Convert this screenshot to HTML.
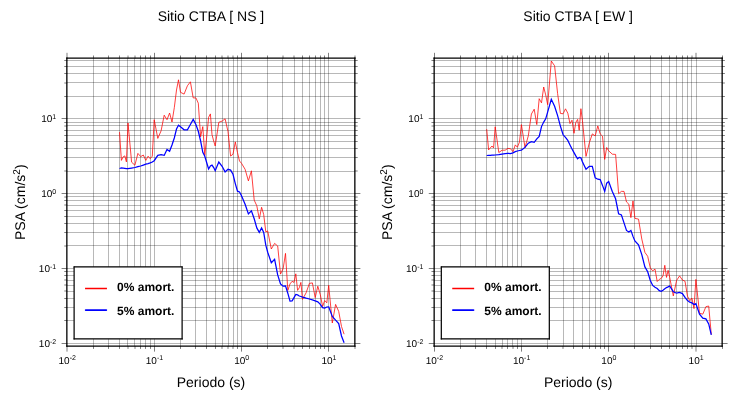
<!DOCTYPE html>
<html><head><meta charset="utf-8"><title>PSA</title>
<style>
html,body{margin:0;padding:0;background:#fff;}
svg{display:block}
text{font-family:"Liberation Sans",Arial,Helvetica,sans-serif;fill:#000;text-rendering:geometricPrecision}
.an{font-size:10px}
.sup{font-size:7px}
.sup2{font-size:10px}
.lb{font-size:14px}
.ti{font-size:14px}
.lg{font-size:12px;font-weight:bold}
</style></head><body>
<svg width="730" height="400" viewBox="0 0 730 400">
<rect width="730" height="400" fill="#fff"/>
<g transform="translate(0,0)">
<path d="M66.5 58.22V346.22M93.5 58.22V346.22M108.5 58.22V346.22M119.5 58.22V346.22M127.5 58.22V346.22M134.5 58.22V346.22M140.5 58.22V346.22M145.5 58.22V346.22M150.5 58.22V346.22M154.5 58.22V346.22M180.5 58.22V346.22M195.5 58.22V346.22M206.5 58.22V346.22M215.5 58.22V346.22M222.5 58.22V346.22M228.5 58.22V346.22M233.5 58.22V346.22M237.5 58.22V346.22M241.5 58.22V346.22M267.5 58.22V346.22M282.5 58.22V346.22M294.5 58.22V346.22M302.5 58.22V346.22M309.5 58.22V346.22M315.5 58.22V346.22M320.5 58.22V346.22M324.5 58.22V346.22M328.5 58.22V346.22M354.5 58.22V346.22M66.98 343.5H354.98M66.98 320.5H354.98M66.98 307.5H354.98M66.98 298.5H354.98M66.98 291.5H354.98M66.98 285.5H354.98M66.98 280.5H354.98M66.98 275.5H354.98M66.98 271.5H354.98M66.98 268.5H354.98M66.98 245.5H354.98M66.98 232.5H354.98M66.98 223.5H354.98M66.98 216.5H354.98M66.98 210.5H354.98M66.98 205.5H354.98M66.98 200.5H354.98M66.98 196.5H354.98M66.98 193.5H354.98M66.98 171.5H354.98M66.98 157.5H354.98M66.98 148.5H354.98M66.98 141.5H354.98M66.98 135.5H354.98M66.98 130.5H354.98M66.98 125.5H354.98M66.98 122.5H354.98M66.98 118.5H354.98M66.98 96.5H354.98M66.98 82.5H354.98M66.98 73.5H354.98M66.98 66.5H354.98M66.98 60.5H354.98" stroke="#000" stroke-opacity="0.28" stroke-width="1" fill="none"/>
<path d="M93.50 345.92v3.0M93.50 58.52v-3.0M108.50 345.92v3.0M108.50 58.52v-3.0M119.50 345.92v3.0M119.50 58.52v-3.0M140.50 345.92v3.0M140.50 58.52v-3.0M145.50 345.92v3.0M145.50 58.52v-3.0M150.50 345.92v3.0M150.50 58.52v-3.0M154.50 345.92v5.7M154.50 58.52v-5.7M180.50 345.92v3.0M180.50 58.52v-3.0M195.50 345.92v3.0M195.50 58.52v-3.0M206.50 345.92v3.0M206.50 58.52v-3.0M215.50 345.92v3.0M215.50 58.52v-3.0M237.50 345.92v3.0M237.50 58.52v-3.0M241.50 345.92v5.7M241.50 58.52v-5.7M267.50 345.92v3.0M267.50 58.52v-3.0M302.50 345.92v3.0M302.50 58.52v-3.0M309.50 345.92v3.0M309.50 58.52v-3.0M315.50 345.92v3.0M315.50 58.52v-3.0M320.50 345.92v3.0M320.50 58.52v-3.0M324.50 345.92v3.0M324.50 58.52v-3.0M328.50 345.92v5.7M328.50 58.52v-5.7M67.28 343.5h-5.7M354.68 343.5h5.7M67.28 320.5h-3.0M354.68 320.5h3.0M67.28 307.5h-3.0M354.68 307.5h3.0M67.28 298.5h-3.0M354.68 298.5h3.0M67.28 275.5h-3.0M354.68 275.5h3.0M67.28 271.5h-3.0M354.68 271.5h3.0M67.28 268.5h-5.7M354.68 268.5h5.7M67.28 232.5h-3.0M354.68 232.5h3.0M67.28 223.5h-3.0M354.68 223.5h3.0M67.28 216.5h-3.0M354.68 216.5h3.0M67.28 210.5h-3.0M354.68 210.5h3.0M67.28 200.5h-3.0M354.68 200.5h3.0M67.28 193.5h-5.7M354.68 193.5h5.7M67.28 157.5h-3.0M354.68 157.5h3.0M67.28 148.5h-3.0M354.68 148.5h3.0M67.28 141.5h-3.0M354.68 141.5h3.0M67.28 135.5h-3.0M354.68 135.5h3.0M67.28 130.5h-3.0M354.68 130.5h3.0M67.28 122.5h-3.0M354.68 122.5h3.0M67.28 118.5h-5.7M354.68 118.5h5.7M67.28 96.5h-3.0M354.68 96.5h3.0M67.28 73.5h-3.0M354.68 73.5h3.0M67.28 66.5h-3.0M354.68 66.5h3.0M67.28 60.5h-3.0M354.68 60.5h3.0" stroke="#000" stroke-opacity="0.5" stroke-width="1" fill="none"/>
<path d="M66.50 345.92v5.7M66.50 58.52v-5.7M67.50 345.92v5.7M67.50 58.52v-5.7M127.50 345.92v3.0M127.50 58.52v-3.0M128.50 345.92v3.0M128.50 58.52v-3.0M134.50 345.92v3.0M134.50 58.52v-3.0M135.50 345.92v3.0M135.50 58.52v-3.0M221.50 345.92v3.0M221.50 58.52v-3.0M222.50 345.92v3.0M222.50 58.52v-3.0M227.50 345.92v3.0M227.50 58.52v-3.0M228.50 345.92v3.0M228.50 58.52v-3.0M232.50 345.92v3.0M232.50 58.52v-3.0M233.50 345.92v3.0M233.50 58.52v-3.0M282.50 345.92v3.0M282.50 58.52v-3.0M283.50 345.92v3.0M283.50 58.52v-3.0M293.50 345.92v3.0M293.50 58.52v-3.0M294.50 345.92v3.0M294.50 58.52v-3.0M354.50 345.92v3.0M354.50 58.52v-3.0M355.50 345.92v3.0M355.50 58.52v-3.0M67.28 290.5h-3.0M354.68 290.5h3.0M67.28 291.5h-3.0M354.68 291.5h3.0M67.28 284.5h-3.0M354.68 284.5h3.0M67.28 285.5h-3.0M354.68 285.5h3.0M67.28 279.5h-3.0M354.68 279.5h3.0M67.28 280.5h-3.0M354.68 280.5h3.0M67.28 245.5h-3.0M354.68 245.5h3.0M67.28 246.5h-3.0M354.68 246.5h3.0M67.28 204.5h-3.0M354.68 204.5h3.0M67.28 205.5h-3.0M354.68 205.5h3.0M67.28 196.5h-3.0M354.68 196.5h3.0M67.28 197.5h-3.0M354.68 197.5h3.0M67.28 170.5h-3.0M354.68 170.5h3.0M67.28 171.5h-3.0M354.68 171.5h3.0M67.28 125.5h-3.0M354.68 125.5h3.0M67.28 126.5h-3.0M354.68 126.5h3.0M67.28 82.5h-3.0M354.68 82.5h3.0M67.28 83.5h-3.0M354.68 83.5h3.0" stroke="#000" stroke-opacity="0.25" stroke-width="1" fill="none"/>
<path d="M119.5 132.1L121.4 160.4L123.1 156.9L124.8 155.9L126.4 161.9L128.0 123.0L131.6 162.2L134.9 165.2L137.9 153.4L140.7 156.6L143.3 155.0L145.8 160.4L148.1 156.2L150.2 158.7L152.3 156.2L154.2 119.7L157.8 138.4L161.1 130.8L164.2 115.2L167.0 119.7L169.6 113.0L172.0 122.0L174.3 107.7L176.5 90.0L178.5 79.8L180.5 92.3L184.1 94.1L187.4 85.8L190.4 81.8L193.2 97.9L195.9 97.9L198.3 103.2L200.6 136.8L202.8 126.6L204.8 155.6L206.8 136.0L208.6 117.3L210.4 113.9L212.0 134.7L213.7 141.0L215.2 146.0L218.8 122.3L222.1 121.1L225.1 118.8L228.0 131.6L230.6 156.1L233.0 154.2L235.3 141.9L237.5 152.7L239.5 161.0L241.5 163.3L245.1 169.3L248.4 180.9L251.4 170.8L254.2 200.1L256.8 205.8L259.3 218.9L261.6 207.3L263.7 214.5L265.8 231.9L267.7 230.9L271.3 249.0L274.6 243.4L277.7 246.0L280.5 274.1L283.1 268.8L285.5 253.4L287.8 290.4L290.0 283.9L292.1 281.3L294.0 282.4L295.8 273.8L297.6 290.4L299.3 287.7L300.9 282.4L302.5 299.4L306.1 292.8L309.4 283.4L312.4 282.9L315.2 297.6L317.8 286.2L320.3 294.7L322.6 306.5L324.7 300.5L326.8 302.8L328.7 285.4L332.3 323.0L335.6 304.4L338.7 311.4L341.5 326.5L344.1 334.2" stroke="#f00" stroke-width="0.75" fill="none" stroke-linejoin="miter"/>
<path d="M119.5 168.5L121.4 168.0L123.1 168.2L124.8 168.4L126.4 168.6L128.0 168.7L131.6 168.1L134.9 167.5L137.9 166.7L140.7 166.0L143.3 165.1L145.8 164.2L148.1 163.6L150.2 162.9L152.3 162.0L154.2 160.7L157.8 155.4L161.1 154.7L164.2 155.4L167.0 149.4L169.6 151.3L172.0 145.0L174.3 138.0L176.5 129.0L178.5 125.3L180.5 126.8L184.1 129.8L187.4 129.8L190.4 124.5L193.2 119.4L195.9 124.5L198.3 131.3L200.6 141.0L202.8 152.4L204.8 156.2L206.8 163.0L208.6 169.0L210.4 166.0L212.0 165.1L213.7 167.6L215.2 170.8L218.8 162.0L222.1 166.3L225.1 171.9L228.0 169.3L230.6 170.1L233.0 174.3L235.3 183.6L237.5 191.2L239.5 191.9L241.5 195.7L245.1 204.2L248.4 213.9L251.4 210.9L254.2 218.8L256.8 227.9L259.3 232.4L261.6 227.9L263.7 232.4L265.8 245.2L267.7 252.2L271.3 262.8L274.6 259.3L277.7 274.9L280.5 283.9L283.1 286.2L285.5 285.9L287.8 293.2L290.0 301.1L292.1 300.9L294.0 297.6L295.8 294.5L297.6 294.9L299.3 296.0L300.9 296.5L302.5 297.1L306.1 298.2L309.4 299.0L312.4 299.8L315.2 300.8L317.8 301.8L320.3 304.3L322.6 307.7L324.7 308.1L326.8 307.0L328.7 306.8L332.3 316.4L335.6 320.2L338.7 323.6L341.5 336.0L344.1 342.8" stroke="#00f" stroke-width="1.25" fill="none" stroke-linejoin="miter"/>
<path d="M66.89 57.4V346.8M354.89 57.4V346.8" fill="none" stroke="#000" stroke-width="1.22"/>
<path d="M66.28 58.1H355.50M66.28 346.1H355.50" fill="none" stroke="#000" stroke-width="1.4"/>
<rect x="74.11" y="266.9" width="108" height="72" fill="#fff"/>
<path d="M74.11 266.9V338.9M182.11 266.9V338.9" fill="none" stroke="#000" stroke-width="1.22" stroke-linecap="round"/>
<path d="M74.11 266.9H182.11M74.11 338.9H182.11" fill="none" stroke="#000" stroke-width="1.4" stroke-linecap="round"/>
<path d="M85.05 288.5h21.9" stroke="#f00" stroke-width="1.5"/>
<path d="M85.7 310.05h20.6" stroke="#00f" stroke-width="1.8" stroke-linecap="round"/>
<text x="117.1" y="291.4" class="lg">0% amort.</text>
<text x="117.1" y="314.6" class="lg">5% amort.</text>
<text x="67.18" y="364" class="an" text-anchor="middle">10<tspan dy="-4" class="sup">-2</tspan></text>
<text x="56.2" y="347.03" class="an" text-anchor="end">10<tspan dy="-3" class="sup">-2</tspan></text>
<text x="154.43" y="364" class="an" text-anchor="middle">10<tspan dy="-4" class="sup">-1</tspan></text>
<text x="56.2" y="272.12" class="an" text-anchor="end">10<tspan dy="-3" class="sup">-1</tspan></text>
<text x="241.67" y="364" class="an" text-anchor="middle">10<tspan dy="-4" class="sup">0</tspan></text>
<text x="56.2" y="197.22" class="an" text-anchor="end">10<tspan dy="-3" class="sup">0</tspan></text>
<text x="328.92" y="364" class="an" text-anchor="middle">10<tspan dy="-4" class="sup">1</tspan></text>
<text x="56.2" y="122.31" class="an" text-anchor="end">10<tspan dy="-3" class="sup">1</tspan></text>
<text x="210.98" y="386.5" class="lb" text-anchor="middle">Periodo (s)</text>
<text transform="translate(25,202.22) rotate(-90)" class="lb" text-anchor="middle">PSA (cm/s<tspan dy="-5" class="sup2">2</tspan><tspan dy="5">)</tspan></text>
<text x="210.98" y="21" class="ti" text-anchor="middle">Sitio CTBA [ NS ]</text>
</g>
<g transform="translate(367.2,0)">
<path d="M67.3 58.22V346.22M93.3 58.22V346.22M108.3 58.22V346.22M119.3 58.22V346.22M128.3 58.22V346.22M135.3 58.22V346.22M140.3 58.22V346.22M145.3 58.22V346.22M150.3 58.22V346.22M154.3 58.22V346.22M180.3 58.22V346.22M196.3 58.22V346.22M206.3 58.22V346.22M215.3 58.22V346.22M222.3 58.22V346.22M228.3 58.22V346.22M233.3 58.22V346.22M237.3 58.22V346.22M241.3 58.22V346.22M267.3 58.22V346.22M283.3 58.22V346.22M294.3 58.22V346.22M302.3 58.22V346.22M309.3 58.22V346.22M315.3 58.22V346.22M320.3 58.22V346.22M324.3 58.22V346.22M329.3 58.22V346.22M355.3 58.22V346.22M66.98 343.5H354.98M66.98 320.5H354.98M66.98 307.5H354.98M66.98 298.5H354.98M66.98 291.5H354.98M66.98 285.5H354.98M66.98 280.5H354.98M66.98 275.5H354.98M66.98 271.5H354.98M66.98 268.5H354.98M66.98 245.5H354.98M66.98 232.5H354.98M66.98 223.5H354.98M66.98 216.5H354.98M66.98 210.5H354.98M66.98 205.5H354.98M66.98 200.5H354.98M66.98 196.5H354.98M66.98 193.5H354.98M66.98 171.5H354.98M66.98 157.5H354.98M66.98 148.5H354.98M66.98 141.5H354.98M66.98 135.5H354.98M66.98 130.5H354.98M66.98 125.5H354.98M66.98 122.5H354.98M66.98 118.5H354.98M66.98 96.5H354.98M66.98 82.5H354.98M66.98 73.5H354.98M66.98 66.5H354.98M66.98 60.5H354.98" stroke="#000" stroke-opacity="0.28" stroke-width="1" fill="none"/>
<path d="M67.30 345.92v5.7M67.30 58.52v-5.7M93.30 345.92v3.0M93.30 58.52v-3.0M108.30 345.92v3.0M108.30 58.52v-3.0M119.30 345.92v3.0M119.30 58.52v-3.0M128.30 345.92v3.0M128.30 58.52v-3.0M140.30 345.92v3.0M140.30 58.52v-3.0M150.30 345.92v3.0M150.30 58.52v-3.0M154.30 345.92v5.7M154.30 58.52v-5.7M180.30 345.92v3.0M180.30 58.52v-3.0M206.30 345.92v3.0M206.30 58.52v-3.0M215.30 345.92v3.0M215.30 58.52v-3.0M222.30 345.92v3.0M222.30 58.52v-3.0M228.30 345.92v3.0M228.30 58.52v-3.0M233.30 345.92v3.0M233.30 58.52v-3.0M237.30 345.92v3.0M237.30 58.52v-3.0M241.30 345.92v5.7M241.30 58.52v-5.7M267.30 345.92v3.0M267.30 58.52v-3.0M283.30 345.92v3.0M283.30 58.52v-3.0M294.30 345.92v3.0M294.30 58.52v-3.0M302.30 345.92v3.0M302.30 58.52v-3.0M309.30 345.92v3.0M309.30 58.52v-3.0M315.30 345.92v3.0M315.30 58.52v-3.0M320.30 345.92v3.0M320.30 58.52v-3.0M355.30 345.92v3.0M355.30 58.52v-3.0M67.28 343.5h-5.7M354.68 343.5h5.7M67.28 320.5h-3.0M354.68 320.5h3.0M67.28 307.5h-3.0M354.68 307.5h3.0M67.28 298.5h-3.0M354.68 298.5h3.0M67.28 275.5h-3.0M354.68 275.5h3.0M67.28 271.5h-3.0M354.68 271.5h3.0M67.28 268.5h-5.7M354.68 268.5h5.7M67.28 232.5h-3.0M354.68 232.5h3.0M67.28 223.5h-3.0M354.68 223.5h3.0M67.28 216.5h-3.0M354.68 216.5h3.0M67.28 210.5h-3.0M354.68 210.5h3.0M67.28 200.5h-3.0M354.68 200.5h3.0M67.28 193.5h-5.7M354.68 193.5h5.7M67.28 157.5h-3.0M354.68 157.5h3.0M67.28 148.5h-3.0M354.68 148.5h3.0M67.28 141.5h-3.0M354.68 141.5h3.0M67.28 135.5h-3.0M354.68 135.5h3.0M67.28 130.5h-3.0M354.68 130.5h3.0M67.28 122.5h-3.0M354.68 122.5h3.0M67.28 118.5h-5.7M354.68 118.5h5.7M67.28 96.5h-3.0M354.68 96.5h3.0M67.28 73.5h-3.0M354.68 73.5h3.0M67.28 66.5h-3.0M354.68 66.5h3.0M67.28 60.5h-3.0M354.68 60.5h3.0" stroke="#000" stroke-opacity="0.5" stroke-width="1" fill="none"/>
<path d="M134.30 345.92v3.0M134.30 58.52v-3.0M135.30 345.92v3.0M135.30 58.52v-3.0M145.30 345.92v3.0M145.30 58.52v-3.0M146.30 345.92v3.0M146.30 58.52v-3.0M195.30 345.92v3.0M195.30 58.52v-3.0M196.30 345.92v3.0M196.30 58.52v-3.0M324.30 345.92v3.0M324.30 58.52v-3.0M325.30 345.92v3.0M325.30 58.52v-3.0M328.30 345.92v5.7M328.30 58.52v-5.7M329.30 345.92v5.7M329.30 58.52v-5.7M67.28 290.5h-3.0M354.68 290.5h3.0M67.28 291.5h-3.0M354.68 291.5h3.0M67.28 284.5h-3.0M354.68 284.5h3.0M67.28 285.5h-3.0M354.68 285.5h3.0M67.28 279.5h-3.0M354.68 279.5h3.0M67.28 280.5h-3.0M354.68 280.5h3.0M67.28 245.5h-3.0M354.68 245.5h3.0M67.28 246.5h-3.0M354.68 246.5h3.0M67.28 204.5h-3.0M354.68 204.5h3.0M67.28 205.5h-3.0M354.68 205.5h3.0M67.28 196.5h-3.0M354.68 196.5h3.0M67.28 197.5h-3.0M354.68 197.5h3.0M67.28 170.5h-3.0M354.68 170.5h3.0M67.28 171.5h-3.0M354.68 171.5h3.0M67.28 125.5h-3.0M354.68 125.5h3.0M67.28 126.5h-3.0M354.68 126.5h3.0M67.28 82.5h-3.0M354.68 82.5h3.0M67.28 83.5h-3.0M354.68 83.5h3.0" stroke="#000" stroke-opacity="0.25" stroke-width="1" fill="none"/>
<path d="M119.5 129.1L121.4 149.9L123.1 147.9L124.8 146.0L126.4 147.9L128.0 126.8L131.6 152.5L134.9 150.2L137.9 150.2L140.7 148.4L143.3 148.7L145.8 151.7L148.1 144.9L150.2 147.2L152.3 141.9L154.2 124.6L157.8 147.6L161.1 135.9L164.2 114.0L167.0 109.2L169.6 124.6L172.0 98.7L174.3 102.9L176.5 87.0L178.5 94.9L180.5 104.7L184.1 61.0L187.4 65.8L190.4 93.5L193.2 113.4L195.9 113.8L198.3 108.8L200.6 113.2L202.8 123.6L204.8 120.2L206.8 133.3L208.6 122.4L210.4 119.4L212.0 130.3L213.7 108.7L215.2 120.3L218.8 156.4L222.1 142.9L225.1 133.9L228.0 135.9L230.6 125.9L233.0 133.9L235.3 136.2L237.5 159.4L239.5 147.5L241.5 150.8L245.1 154.2L248.4 154.4L251.4 193.7L254.2 191.4L256.8 191.4L259.3 202.0L261.6 204.1L263.7 217.6L265.8 200.9L267.7 218.4L271.3 219.1L274.6 239.1L277.7 252.4L280.5 256.3L283.1 267.9L285.5 270.9L287.8 269.1L290.0 281.5L292.1 279.4L294.0 278.4L295.8 275.9L297.6 265.3L299.3 277.4L300.9 270.3L302.5 277.4L306.1 295.9L309.4 280.4L312.4 275.9L315.2 280.0L317.8 281.2L320.3 296.2L322.6 300.8L324.7 298.0L326.8 308.6L328.7 279.4L332.3 313.2L335.6 314.2L338.7 306.7L341.5 306.0L344.1 334.5" stroke="#f00" stroke-width="0.75" fill="none" stroke-linejoin="miter"/>
<path d="M119.5 155.5L121.4 155.4L123.1 155.3L124.8 155.2L126.4 155.1L128.0 155.0L131.6 154.7L134.9 154.1L137.9 153.7L140.7 153.4L143.3 153.5L145.8 152.9L148.1 151.7L150.2 151.0L152.3 150.5L154.2 150.2L157.8 147.4L161.1 143.2L164.2 141.7L167.0 142.4L169.6 138.9L172.0 136.4L174.3 126.6L176.5 122.1L178.5 118.8L180.5 111.8L184.1 99.3L187.4 106.2L190.4 115.6L193.2 126.1L195.9 134.8L198.3 137.4L200.6 140.4L202.8 144.9L204.8 149.0L206.8 152.6L208.6 155.9L210.4 158.8L212.0 157.4L213.7 157.8L215.2 161.7L218.8 169.3L222.1 166.3L225.1 166.3L228.0 177.9L230.6 179.2L233.0 179.6L235.3 185.4L237.5 191.4L239.5 183.2L241.5 181.6L245.1 191.4L248.4 198.8L251.4 213.8L254.2 214.9L256.8 222.9L259.3 230.4L261.6 231.9L263.7 230.4L265.8 236.4L267.7 241.0L271.3 244.8L274.6 254.6L277.7 266.9L280.5 271.7L283.1 280.4L285.5 285.4L287.8 287.2L290.0 288.5L292.1 290.6L294.0 291.3L295.8 290.2L297.6 288.7L299.3 287.6L300.9 286.9L302.5 286.0L306.1 291.7L309.4 293.2L312.4 292.5L315.2 293.6L317.8 297.3L320.3 300.6L322.6 302.2L324.7 302.9L326.8 304.6L328.7 303.6L332.3 314.2L335.6 318.1L338.7 318.9L341.5 323.9L344.1 334.9" stroke="#00f" stroke-width="1.25" fill="none" stroke-linejoin="miter"/>
<path d="M66.91 57.4V346.8M354.91 57.4V346.8" fill="none" stroke="#000" stroke-width="1.22"/>
<path d="M66.30 58.1H355.52M66.30 346.1H355.52" fill="none" stroke="#000" stroke-width="1.4"/>
<rect x="74.11" y="266.9" width="108" height="72" fill="#fff"/>
<path d="M74.11 266.9V338.9M182.11 266.9V338.9" fill="none" stroke="#000" stroke-width="1.22" stroke-linecap="round"/>
<path d="M74.11 266.9H182.11M74.11 338.9H182.11" fill="none" stroke="#000" stroke-width="1.4" stroke-linecap="round"/>
<path d="M85.05 288.5h21.9" stroke="#f00" stroke-width="1.5"/>
<path d="M85.7 310.05h20.6" stroke="#00f" stroke-width="1.8" stroke-linecap="round"/>
<text x="117.1" y="291.4" class="lg">0% amort.</text>
<text x="117.1" y="314.6" class="lg">5% amort.</text>
<text x="67.18" y="364" class="an" text-anchor="middle">10<tspan dy="-4" class="sup">-2</tspan></text>
<text x="56.2" y="347.03" class="an" text-anchor="end">10<tspan dy="-3" class="sup">-2</tspan></text>
<text x="154.43" y="364" class="an" text-anchor="middle">10<tspan dy="-4" class="sup">-1</tspan></text>
<text x="56.2" y="272.12" class="an" text-anchor="end">10<tspan dy="-3" class="sup">-1</tspan></text>
<text x="241.67" y="364" class="an" text-anchor="middle">10<tspan dy="-4" class="sup">0</tspan></text>
<text x="56.2" y="197.22" class="an" text-anchor="end">10<tspan dy="-3" class="sup">0</tspan></text>
<text x="328.92" y="364" class="an" text-anchor="middle">10<tspan dy="-4" class="sup">1</tspan></text>
<text x="56.2" y="122.31" class="an" text-anchor="end">10<tspan dy="-3" class="sup">1</tspan></text>
<text x="210.98" y="386.5" class="lb" text-anchor="middle">Periodo (s)</text>
<text transform="translate(25,202.22) rotate(-90)" class="lb" text-anchor="middle">PSA (cm/s<tspan dy="-5" class="sup2">2</tspan><tspan dy="5">)</tspan></text>
<text x="210.98" y="21" class="ti" text-anchor="middle">Sitio CTBA [ EW ]</text>
</g>
</svg>
</body></html>
